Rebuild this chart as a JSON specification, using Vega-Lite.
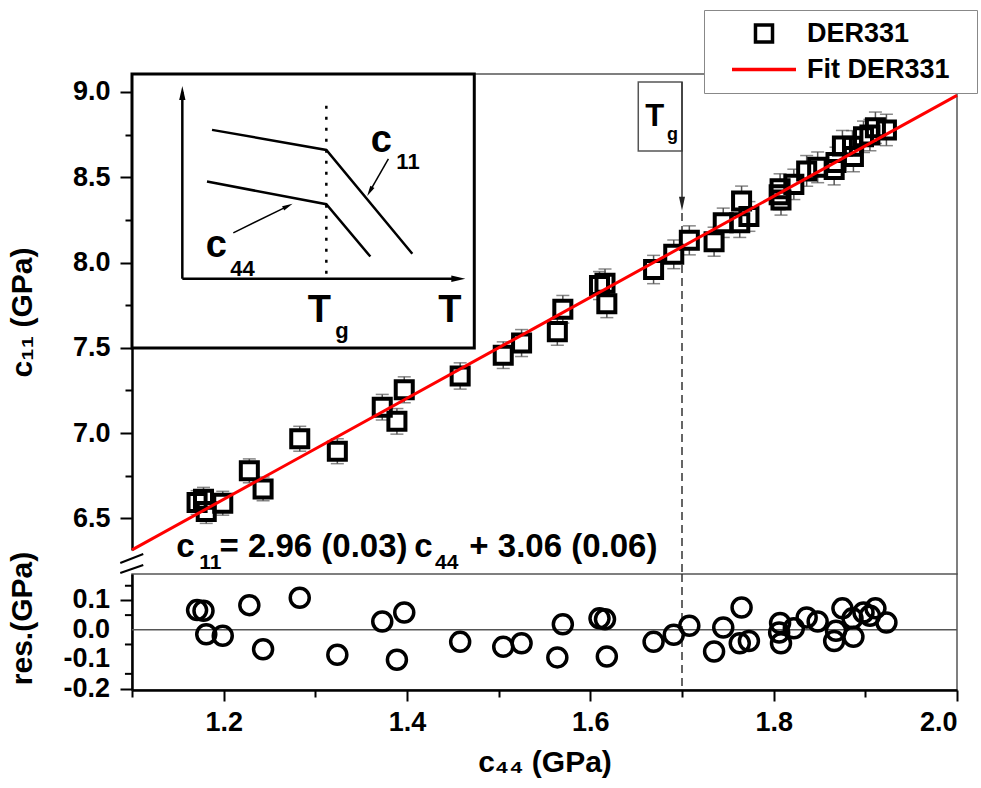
{
  "$schema": "https://vega.github.io/schema/vega-lite/v6.json",
  "background": "white",
  "autosize": {"type": "pad"},
  "padding": {"left": 6, "top": 9, "right": 0, "bottom": 0},
  "spacing": 24,
  "bounds": "flush",
  "resolve": {"scale": {"color": "independent", "shape": "independent", "size": "independent"}, "legend": {"color": "independent", "shape": "independent", "size": "independent"}},
  "config": {
    "font": "Liberation Sans",
    "view": {"stroke": null},
    "axis": {
      "grid": false,
      "domainColor": "black", "domainWidth": 2.5,
      "tickColor": "black", "tickWidth": 2,
      "labelFont": "Liberation Sans", "labelFontSize": 27, "labelFontWeight": "bold", "labelColor": "black",
      "labelOverlap": false,
      "titleFont": "Liberation Sans", "titleFontSize": 30, "titleFontWeight": "bold", "titleColor": "black"
    },
    "text": {"font": "Liberation Sans", "fontWeight": "bold", "color": "black", "align": "left", "baseline": "alphabetic"}
  },
  "datasets": {
    "pts": [
      {"x": 1.171, "y": 6.593, "res": 0.067, "err": 0.07},
      {"x": 1.178, "y": 6.612, "res": 0.065, "err": 0.07},
      {"x": 1.181, "y": 6.541, "res": -0.015, "err": 0.07},
      {"x": 1.199, "y": 6.589, "res": -0.020, "err": 0.07},
      {"x": 1.228, "y": 6.779, "res": 0.084, "err": 0.07},
      {"x": 1.243, "y": 6.673, "res": -0.066, "err": 0.07},
      {"x": 1.283, "y": 6.967, "res": 0.109, "err": 0.073},
      {"x": 1.324, "y": 6.894, "res": -0.085, "err": 0.073},
      {"x": 1.373, "y": 7.152, "res": 0.028, "err": 0.075},
      {"x": 1.389, "y": 7.069, "res": -0.102, "err": 0.075},
      {"x": 1.397, "y": 7.254, "res": 0.059, "err": 0.076},
      {"x": 1.458, "y": 7.335, "res": -0.041, "err": 0.077},
      {"x": 1.505, "y": 7.457, "res": -0.058, "err": 0.078},
      {"x": 1.525, "y": 7.528, "res": -0.046, "err": 0.079},
      {"x": 1.564, "y": 7.595, "res": -0.094, "err": 0.08},
      {"x": 1.570, "y": 7.726, "res": 0.019, "err": 0.081},
      {"x": 1.610, "y": 7.865, "res": 0.039, "err": 0.082},
      {"x": 1.616, "y": 7.879, "res": 0.036, "err": 0.083},
      {"x": 1.618, "y": 7.758, "res": -0.091, "err": 0.081},
      {"x": 1.669, "y": 7.959, "res": -0.041, "err": 0.083},
      {"x": 1.691, "y": 8.048, "res": -0.017, "err": 0.084},
      {"x": 1.708, "y": 8.130, "res": 0.014, "err": 0.085},
      {"x": 1.735, "y": 8.122, "res": -0.074, "err": 0.085},
      {"x": 1.745, "y": 8.233, "res": 0.008, "err": 0.086},
      {"x": 1.765, "y": 8.360, "res": 0.076, "err": 0.088},
      {"x": 1.763, "y": 8.233, "res": -0.046, "err": 0.086},
      {"x": 1.773, "y": 8.270, "res": -0.038, "err": 0.087},
      {"x": 1.807, "y": 8.432, "res": 0.023, "err": 0.088},
      {"x": 1.806, "y": 8.397, "res": -0.009, "err": 0.088},
      {"x": 1.808, "y": 8.366, "res": -0.046, "err": 0.088},
      {"x": 1.822, "y": 8.458, "res": 0.005, "err": 0.089},
      {"x": 1.836, "y": 8.537, "res": 0.042, "err": 0.09},
      {"x": 1.848, "y": 8.558, "res": 0.028, "err": 0.09},
      {"x": 1.866, "y": 8.545, "res": -0.038, "err": 0.09},
      {"x": 1.868, "y": 8.586, "res": -0.003, "err": 0.09},
      {"x": 1.875, "y": 8.683, "res": 0.073, "err": 0.091},
      {"x": 1.887, "y": 8.622, "res": -0.024, "err": 0.09},
      {"x": 1.886, "y": 8.682, "res": 0.039, "err": 0.091},
      {"x": 1.898, "y": 8.737, "res": 0.059, "err": 0.092},
      {"x": 1.905, "y": 8.747, "res": 0.048, "err": 0.092},
      {"x": 1.911, "y": 8.790, "res": 0.073, "err": 0.092},
      {"x": 1.923, "y": 8.777, "res": 0.025, "err": 0.092}
    ],
    "fit": [{"x": 1.1, "y": 6.316}, {"x": 2.0, "y": 8.98}],
    "insetThick": [
      {"seg": "c11", "ord": 1, "x": 1.1873, "y": 8.7774},
      {"seg": "c11", "ord": 2, "x": 1.312, "y": 8.660},
      {"seg": "c11", "ord": 3, "x": 1.4058, "y": 8.051},
      {"seg": "c44", "ord": 1, "x": 1.1818, "y": 8.4745},
      {"seg": "c44", "ord": 2, "x": 1.312, "y": 8.342},
      {"seg": "c44", "ord": 3, "x": 1.36, "y": 8.035},
      {"seg": "ya", "ord": 1, "x": 1.1549, "y": 7.905},
      {"seg": "ya", "ord": 2, "x": 1.1549, "y": 9.0},
      {"seg": "xa", "ord": 1, "x": 1.1549, "y": 7.905},
      {"seg": "xa", "ord": 2, "x": 1.456, "y": 7.905}
    ],
    "insetThin": [
      {"seg": "a11", "ord": 1, "x": 1.3797, "y": 8.6075},
      {"seg": "a11", "ord": 2, "x": 1.3594, "y": 8.4165},
      {"seg": "a44", "ord": 1, "x": 1.2105, "y": 8.174},
      {"seg": "a44", "ord": 2, "x": 1.27, "y": 8.331}
    ],
    "resLabels": [
      {"v": -0.2, "t": "-0.2"},
      {"v": -0.1, "t": "-0.1"},
      {"v": 0, "t": "0.0"},
      {"v": 0.1, "t": "0.1"}
    ]
  },
  "vconcat": [
    {
      "width": 825,
      "height": 476,
      "view": {"stroke": null},
      "layer": [
        {
          "data": {"values": [{}]},
          "mark": {"type": "rule", "color": "#555", "strokeWidth": 1.5},
          "encoding": {
            "y": {"datum": 9.105, "type": "quantitative",
              "scale": {"domain": [6.315, 9.105], "nice": false, "zero": false},
              "axis": {
                "title": "c\u2081\u2081 (GPa)",
                "values": [6.5, 6.75, 7, 7.25, 7.5, 7.75, 8, 8.25, 8.5, 8.75, 9],
                "labelExpr": "datum.value % 0.5 == 0 ? format(datum.value, '.1f') : ''",
                "tickSize": {"condition": {"test": "datum.value % 0.5 == 0", "value": 12}, "value": 7},
                "labelPadding": 10,
                "labelOverlap": false,
                "titleX": -110,
                "titleBaseline": "middle"
              }
            }
          }
        },
        {
          "data": {"values": [{}]},
          "mark": {"type": "rule", "color": "#555", "strokeWidth": 1.5},
          "encoding": {
            "x": {"datum": 2.0, "type": "quantitative", "scale": {"domain": [1.1, 2.0], "nice": false, "zero": false}, "axis": null},
            "y": {"datum": 9.105, "type": "quantitative"},
            "y2": {"datum": 6.17}
          }
        },
        {
          "data": {"values": [{}]},
          "mark": {"type": "rule", "color": "#333", "strokeWidth": 1.5, "strokeDash": [8, 5]},
          "encoding": {
            "x": {"datum": 1.7, "type": "quantitative", "axis": null},
            "y": {"datum": 8.29, "type": "quantitative"},
            "y2": {"datum": 6.17}
          }
        },
        {
          "data": {"values": [{"x": 1.6523, "x2": 1.7, "y": 8.6544, "y2": 9.0586}]},
          "mark": {"type": "rect", "fill": "white", "stroke": "#555", "strokeWidth": 1.5},
          "encoding": {
            "x": {"field": "x", "type": "quantitative", "axis": null},
            "x2": {"field": "x2"},
            "y": {"field": "y", "type": "quantitative", "title": "c\u2081\u2081 (GPa)"},
            "y2": {"field": "y2"}
          }
        },
        {
          "data": {"values": [{"x": 1.7, "y": 9.0586, "y2": 8.33}]},
          "mark": {"type": "rule", "color": "#333", "strokeWidth": 1.5},
          "encoding": {
            "x": {"field": "x", "type": "quantitative", "axis": null},
            "y": {"field": "y", "type": "quantitative", "title": "c\u2081\u2081 (GPa)"},
            "y2": {"field": "y2"}
          }
        },
        {
          "data": {"values": [{"x": 1.7, "y": 8.344}]},
          "mark": {"type": "point", "shape": "M0,1L-0.43,-1L0.43,-1Z", "size": 196, "filled": true, "color": "#222", "opacity": 1},
          "encoding": {
            "x": {"field": "x", "type": "quantitative", "axis": null},
            "y": {"field": "y", "type": "quantitative", "title": "c\u2081\u2081 (GPa)"}
          }
        },
        {
          "data": {"name": "pts"},
          "mark": {"type": "errorbar", "ticks": {"size": 13, "thickness": 1.5, "color": "#555"}, "rule": {"color": "#555", "strokeWidth": 1.5}},
          "encoding": {
            "x": {"field": "x", "type": "quantitative", "axis": null},
            "y": {"field": "y", "type": "quantitative", "title": "c\u2081\u2081 (GPa)"},
            "yError": {"field": "err"}
          }
        },
        {
          "data": {"name": "pts"},
          "mark": {"type": "point", "shape": "square", "filled": true, "color": "white", "size": 290, "opacity": 1},
          "encoding": {
            "x": {"field": "x", "type": "quantitative", "axis": null},
            "y": {"field": "y", "type": "quantitative", "title": "c\u2081\u2081 (GPa)"}
          }
        },
        {
          "data": {"name": "pts"},
          "mark": {"type": "point", "filled": false, "strokeWidth": 4, "opacity": 1},
          "encoding": {
            "x": {"field": "x", "type": "quantitative", "axis": null},
            "y": {"field": "y", "type": "quantitative", "title": "c\u2081\u2081 (GPa)"},
            "color": {
              "datum": "DER331", "type": "nominal",
              "scale": {"domain": ["DER331", "Fit DER331"], "range": ["black", "red"]},
              "legend": {
                "orient": "none", "legendX": 572, "legendY": -64,
                "title": "\u00a0", "titleOrient": "right", "titleColor": "white", "titleFontSize": 12, "titlePadding": 17,
                "padding": 10, "rowPadding": 8, "clipHeight": 27,
                "strokeColor": "#888", "fillColor": "white",
                "labelFont": "Liberation Sans", "labelFontSize": 27, "labelFontWeight": "bold", "labelColor": "black",
                "symbolStrokeWidth": 3.5, "symbolOffset": 16, "labelOffset": 9
              }
            },
            "shape": {
              "datum": "DER331", "type": "nominal",
              "scale": {"domain": ["DER331", "Fit DER331"], "range": ["square", "stroke"]}
            },
            "size": {
              "datum": "DER331", "type": "ordinal",
              "scale": {"domain": ["DER331", "Fit DER331"], "range": [290, 4096]}
            }
          }
        },
        {
          "data": {"name": "fit"},
          "mark": {"type": "line", "color": "red", "strokeWidth": 3},
          "encoding": {
            "x": {"field": "x", "type": "quantitative", "axis": null},
            "y": {"field": "y", "type": "quantitative", "title": "c\u2081\u2081 (GPa)"}
          }
        },
        {
          "data": {"values": [{"x": 1.1, "x2": 1.4734, "y": 7.4997, "y2": 9.105}]},
          "mark": {"type": "rect", "fill": "white", "stroke": "black", "strokeWidth": 3},
          "encoding": {
            "x": {"field": "x", "type": "quantitative", "axis": null},
            "x2": {"field": "x2"},
            "y": {"field": "y", "type": "quantitative", "title": "c\u2081\u2081 (GPa)"},
            "y2": {"field": "y2"}
          }
        },
        {
          "data": {"values": [{"x": 1.312, "y": 7.934, "y2": 8.947}]},
          "mark": {"type": "rule", "color": "black", "strokeWidth": 2.5, "strokeDash": [3, 8]},
          "encoding": {
            "x": {"field": "x", "type": "quantitative", "axis": null},
            "y": {"field": "y", "type": "quantitative", "title": "c\u2081\u2081 (GPa)"},
            "y2": {"field": "y2"}
          }
        },
        {
          "data": {"name": "insetThick"},
          "mark": {"type": "line", "color": "black", "strokeWidth": 2.5},
          "encoding": {
            "x": {"field": "x", "type": "quantitative", "axis": null},
            "y": {"field": "y", "type": "quantitative", "title": "c\u2081\u2081 (GPa)"},
            "detail": {"field": "seg"},
            "order": {"field": "ord"}
          }
        },
        {
          "data": {"name": "insetThin"},
          "mark": {"type": "line", "color": "black", "strokeWidth": 1.5},
          "encoding": {
            "x": {"field": "x", "type": "quantitative", "axis": null},
            "y": {"field": "y", "type": "quantitative", "title": "c\u2081\u2081 (GPa)"},
            "detail": {"field": "seg"},
            "order": {"field": "ord"}
          }
        },
        {
          "data": {"values": [{"x": 1.1549, "y": 8.994}]},
          "mark": {"type": "point", "shape": "M0,-1L-0.45,1L0.45,1Z", "size": 196, "filled": true, "color": "black", "opacity": 1},
          "encoding": {
            "x": {"field": "x", "type": "quantitative", "axis": null},
            "y": {"field": "y", "type": "quantitative", "title": "c\u2081\u2081 (GPa)"}
          }
        },
        {
          "data": {"values": [{"x": 1.456, "y": 7.905}]},
          "mark": {"type": "point", "shape": "M0,-1L-0.45,1L0.45,1Z", "size": 196, "angle": 90, "filled": true, "color": "black", "opacity": 1},
          "encoding": {
            "x": {"field": "x", "type": "quantitative", "axis": null},
            "y": {"field": "y", "type": "quantitative", "title": "c\u2081\u2081 (GPa)"}
          }
        },
        {
          "data": {"values": [{"x": 1.3594, "y": 8.4165}]},
          "mark": {"type": "point", "shape": "M0,-1L-0.45,1L0.45,1Z", "size": 110, "angle": 209.6, "filled": true, "color": "black", "opacity": 1},
          "encoding": {
            "x": {"field": "x", "type": "quantitative", "axis": null},
            "y": {"field": "y", "type": "quantitative", "title": "c\u2081\u2081 (GPa)"}
          }
        },
        {
          "data": {"values": [{"x": 1.27, "y": 8.331}]},
          "mark": {"type": "point", "shape": "M0,-1L-0.45,1L0.45,1Z", "size": 110, "angle": 63.8, "filled": true, "color": "black", "opacity": 1},
          "encoding": {
            "x": {"field": "x", "type": "quantitative", "axis": null},
            "y": {"field": "y", "type": "quantitative", "title": "c\u2081\u2081 (GPa)"}
          }
        },
        {
          "data": {"values": [
            {"t": "c", "x": 1.3605, "y": 8.6456},
            {"t": "c", "x": 1.1805, "y": 8.0305},
            {"t": "T", "x": 1.2918, "y": 7.6485},
            {"t": "T", "x": 1.4341, "y": 7.6485}
          ]},
          "mark": {"type": "text", "fontSize": 38},
          "encoding": {
            "x": {"field": "x", "type": "quantitative", "axis": null},
            "y": {"field": "y", "type": "quantitative", "title": "c\u2081\u2081 (GPa)"},
            "text": {"field": "t"}
          }
        },
        {
          "data": {"values": [
            {"t": "11", "x": 1.3884, "y": 8.547},
            {"t": "44", "x": 1.2072, "y": 7.922},
            {"t": "g", "x": 1.3218, "y": 7.559}
          ]},
          "mark": {"type": "text", "fontSize": 22},
          "encoding": {
            "x": {"field": "x", "type": "quantitative", "axis": null},
            "y": {"field": "y", "type": "quantitative", "title": "c\u2081\u2081 (GPa)"},
            "text": {"field": "t"}
          }
        },
        {
          "data": {"values": [{"t": "T", "x": 1.66, "y": 8.8008}]},
          "mark": {"type": "text", "fontSize": 31},
          "encoding": {
            "x": {"field": "x", "type": "quantitative", "axis": null},
            "y": {"field": "y", "type": "quantitative", "title": "c\u2081\u2081 (GPa)"},
            "text": {"field": "t"}
          }
        },
        {
          "data": {"values": [{"t": "g", "x": 1.6836, "y": 8.7188}]},
          "mark": {"type": "text", "fontSize": 18},
          "encoding": {
            "x": {"field": "x", "type": "quantitative", "axis": null},
            "y": {"field": "y", "type": "quantitative", "title": "c\u2081\u2081 (GPa)"},
            "text": {"field": "t"}
          }
        },
        {
          "data": {"values": [
            {"t": "c", "x": 1.1483, "y": 6.274},
            {"t": "= 2.96 (0.03)", "x": 1.1954, "y": 6.274},
            {"t": "c", "x": 1.408, "y": 6.274},
            {"t": "+ 3.06 (0.06)", "x": 1.468, "y": 6.274}
          ]},
          "mark": {"type": "text", "fontSize": 33},
          "encoding": {
            "x": {"field": "x", "type": "quantitative", "axis": null},
            "y": {"field": "y", "type": "quantitative", "title": "c\u2081\u2081 (GPa)"},
            "text": {"field": "t"}
          }
        },
        {
          "data": {"values": [
            {"t": "11", "x": 1.1734, "y": 6.204},
            {"t": "44", "x": 1.4305, "y": 6.204}
          ]},
          "mark": {"type": "text", "fontSize": 21},
          "encoding": {
            "x": {"field": "x", "type": "quantitative", "axis": null},
            "y": {"field": "y", "type": "quantitative", "title": "c\u2081\u2081 (GPa)"},
            "text": {"field": "t"}
          }
        },
        {
          "data": {"values": [
            {"x": 1.0872, "x2": 1.1123, "y": 6.2388, "y2": 6.2916},
            {"x": 1.0872, "x2": 1.1123, "y": 6.1803, "y2": 6.2271}
          ]},
          "mark": {"type": "rule", "color": "black", "strokeWidth": 2},
          "encoding": {
            "x": {"field": "x", "type": "quantitative", "axis": null},
            "x2": {"field": "x2"},
            "y": {"field": "y", "type": "quantitative", "title": "c\u2081\u2081 (GPa)"},
            "y2": {"field": "y2"}
          }
        }
      ]
    },
    {
      "width": 825,
      "height": 116,
      "view": {"stroke": "#555", "strokeWidth": 1.5},
      "layer": [
        {
          "data": {"values": [{}]},
          "mark": {"type": "rule", "color": "#555", "strokeWidth": 1.5},
          "encoding": {
            "y": {"datum": 0, "type": "quantitative",
              "scale": {"domain": [-0.205, 0.19], "nice": false, "zero": false},
              "axis": {
                "title": "res.(GPa)",
                "values": [-0.2, -0.1, 0, 0.1],
                "labels": false,
                "tickSize": 12,
                "titleX": -110,
                "titleY": 44,
                "titleBaseline": "middle"
              }
            }
          }
        },
        {
          "data": {"values": [{}]},
          "mark": {"type": "rule", "color": "#333", "strokeWidth": 1.5, "strokeDash": [8, 5]},
          "encoding": {
            "x": {"datum": 1.7, "type": "quantitative",
              "scale": {"domain": [1.1, 2.0], "nice": false, "zero": false}}
          }
        },
        {
          "data": {"values": [{"y": -0.15}, {"y": -0.05}, {"y": 0.05}, {"y": 0.15}]},
          "mark": {"type": "rule", "color": "black", "strokeWidth": 2},
          "encoding": {
            "x": {"datum": 1.0923, "type": "quantitative"},
            "x2": {"datum": 1.1},
            "y": {"field": "y", "type": "quantitative", "title": "res.(GPa)"}
          }
        },
        {
          "data": {"name": "resLabels"},
          "mark": {"type": "text", "fontSize": 27, "align": "right", "baseline": "middle"},
          "encoding": {
            "x": {"datum": 1.076, "type": "quantitative"},
            "y": {"field": "v", "type": "quantitative", "title": "res.(GPa)"},
            "text": {"field": "t"}
          }
        },
        {
          "data": {"name": "pts"},
          "mark": {"type": "point", "shape": "circle", "filled": false, "color": "black", "size": 361, "strokeWidth": 3.5, "opacity": 1},
          "encoding": {
            "x": {"field": "x", "type": "quantitative",
              "scale": {"domain": [1.1, 2.0], "nice": false, "zero": false},
              "axis": {
                "title": "c\u2084\u2084 (GPa)",
                "values": [1.1, 1.2, 1.3, 1.4, 1.5, 1.6, 1.7, 1.8, 1.9, 2.0],
                "labelExpr": "abs(datum.value*5 - round(datum.value*5)) < 0.001 ? format(datum.value, '.1f') : ''",
                "tickSize": {"condition": {"test": "abs(datum.value*5 - round(datum.value*5)) < 0.001", "value": 11}, "value": 7},
                "labelPadding": 8,
                "labelOverlap": false,
                "titlePadding": 12
              }
            },
            "y": {"field": "res", "type": "quantitative", "title": "res.(GPa)"}
          }
        }
      ]
    }
  ]
}
